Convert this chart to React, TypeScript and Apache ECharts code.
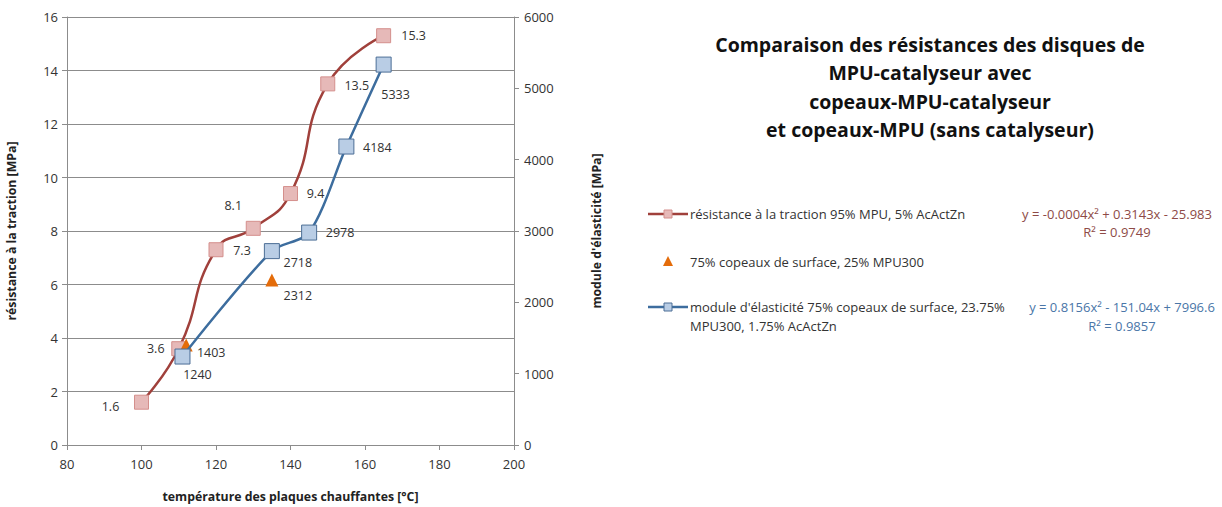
import React, { useEffect, useRef } from "react";
import * as echarts from "echarts";

const tempTraction = [100, 110, 120, 130, 140, 150, 165];
const traction = [1.6, 3.6, 7.3, 8.1, 9.4, 13.5, 15.3];
const tractionLabelOffsets = [[-31, 4], [-23, 0], [26, 1], [-20, -23], [25, 0], [29, 2], [30, 0]];

const tempModule = [111, 135, 145, 155, 165];
const moduleE = [1240, 2718, 2978, 4184, 5333];
const moduleLabelOffsets = [[15, 18], [26, 11], [31, 0], [31, 1], [12, 30]];

const tempChips = [112, 135];
const chips = [1403, 2312];
const chipsLabelOffsets = [[25, 8], [26, 15]];

const xTicks = { min: 80, max: 200, interval: 20 };
const yLeftTicks = { min: 0, max: 16, interval: 2 };
const yRightTicks = { min: 0, max: 6000, interval: 1000 };

const titleLines = [
  "Comparaison des résistances des disques de",
  "MPU-catalyseur avec",
  "copeaux-MPU-catalyseur",
  "et copeaux-MPU (sans catalyseur)",
];
const legendNames = [
  "résistance à la traction 95% MPU, 5% AcActZn",
  "75% copeaux de surface, 25% MPU300",
  "module d'élasticité 75% copeaux de surface, 23.75%\nMPU300, 1.75% AcActZn",
];
const eq1 = ["y = -0.0004x² + 0.3143x - 25.983", "R² = 0.9749"];
const eq2 = ["y = 0.8156x² - 151.04x + 7996.6", "R² = 0.9857"];

const FONT = "'Open Sans', 'DejaVu Sans', sans-serif";
const RED_LINE = "#A0403B";
const RED_FILL = "#E6B9B8";
const RED_BORDER = "#D48F8C";
const BLUE_LINE = "#3D6D9E";
const BLUE_FILL = "#B9CDE5";
const BLUE_BORDER = "#4C6E96";
const ORANGE = "#E46C0A";
const GRID = "#8C8C8C";
const TXT = "#333333";

function mkData(xs: number[], ys: number[], offs: number[][]) {
  return xs.map((x, i) => ({
    value: [x, ys[i]],
    label: { offset: offs[i] },
  }));
}

export default function App() {
  const ref = useRef<HTMLDivElement>(null);
  useEffect(() => {
    if (!ref.current) return;
    const chart = echarts.init(ref.current, null, { renderer: "svg" });
    const labelCommon = {
      show: true,
      position: "inside",
      fontFamily: FONT,
      fontSize: 12.5,
      color: TXT,
      textBorderWidth: 0,
      textBorderColor: "transparent",
      formatter: (p: any) => String(p.value[1]),
    };
    const axisLbl = { fontFamily: FONT, fontSize: 13, color: TXT };
    const nameStyle = { fontFamily: FONT, fontSize: 12.3, fontWeight: "bold", color: "#222" };
    const legTxt = { fontFamily: FONT, fontSize: 13, fill: TXT };
    chart.setOption({
      animation: false,
      backgroundColor: "#ffffff",
      grid: { left: 67, right: 708, top: 17, bottom: 62, containLabel: false },
      xAxis: {
        type: "value",
        ...xTicks,
        axisLine: { show: true, lineStyle: { color: GRID } },
        axisTick: { show: true, length: 5, lineStyle: { color: GRID } },
        splitLine: { show: false },
        axisLabel: { ...axisLbl, margin: 12 },
        name: "température des plaques chauffantes [°C]",
        nameLocation: "middle",
        nameGap: 45,
        nameTextStyle: nameStyle,
      },
      yAxis: [
        {
          type: "value",
          ...yLeftTicks,
          axisLine: { show: true, lineStyle: { color: GRID } },
          axisTick: { show: true, length: 5, lineStyle: { color: GRID } },
          splitLine: { show: true, lineStyle: { color: GRID, width: 1 } },
          axisLabel: { ...axisLbl, margin: 9 },
          name: "résistance à la traction [MPa]",
          nameLocation: "middle",
          nameGap: 50,
          nameTextStyle: nameStyle,
        },
        {
          type: "value",
          position: "right",
          ...yRightTicks,
          axisLine: { show: true, lineStyle: { color: GRID } },
          axisTick: { show: true, length: 5, lineStyle: { color: GRID } },
          splitLine: { show: false },
          axisLabel: { ...axisLbl, margin: 10, formatter: (v: number) => String(v) },
          name: "module d'élasticité [MPa]",
          nameLocation: "middle",
          nameGap: 76,
          nameTextStyle: nameStyle,
        },
      ],
      series: [
        {
          type: "line",
          name: legendNames[0],
          yAxisIndex: 0,
          smooth: 0.5,
          data: mkData(tempTraction, traction, tractionLabelOffsets),
          lineStyle: { color: RED_LINE, width: 2.5 },
          symbol: "rect",
          symbolSize: 14,
          itemStyle: { color: RED_FILL, borderColor: RED_BORDER, borderWidth: 1 },
          label: labelCommon,
          z: 2,
        },
        {
          type: "scatter",
          name: legendNames[1],
          yAxisIndex: 1,
          data: mkData(tempChips, chips, chipsLabelOffsets),
          symbol: "triangle",
          symbolSize: 13,
          itemStyle: { color: ORANGE, opacity: 1 },
          label: labelCommon,
          z: 3,
        },
        {
          type: "line",
          name: legendNames[2],
          yAxisIndex: 1,
          smooth: 0.3,
          data: mkData(tempModule, moduleE, moduleLabelOffsets),
          lineStyle: { color: BLUE_LINE, width: 2.5 },
          symbol: "rect",
          symbolSize: 15,
          itemStyle: { color: BLUE_FILL, borderColor: BLUE_BORDER, borderWidth: 1 },
          label: labelCommon,
          z: 4,
        },
      ],
      graphic: [
        {
          type: "text",
          x: 930,
          y: 30,
          style: {
            text: titleLines.join("\n"),
            align: "center",
            verticalAlign: "top",
            lineHeight: 28.5,
            font: `bold 19.5px ${FONT}`,
            fill: "#111",
          },
        },
        // legend row 1
        { type: "line", shape: { x1: 648, y1: 214, x2: 688, y2: 214 }, style: { stroke: RED_LINE, lineWidth: 2.5 } },
        { type: "rect", shape: { x: 664, y: 210, width: 8, height: 8 }, style: { fill: RED_FILL, stroke: RED_BORDER, lineWidth: 1 } },
        { type: "text", x: 690, y: 214, style: { ...legTxt, text: legendNames[0], verticalAlign: "middle" } },
        // legend row 2
        { type: "polygon", shape: { points: [[668, 256], [663, 266], [673, 266]] }, style: { fill: ORANGE } },
        { type: "text", x: 690, y: 262, style: { ...legTxt, text: legendNames[1], verticalAlign: "middle" } },
        // legend row 3
        { type: "line", shape: { x1: 648, y1: 307, x2: 688, y2: 307 }, style: { stroke: BLUE_LINE, lineWidth: 2.5 } },
        { type: "rect", shape: { x: 664, y: 303, width: 8, height: 8 }, style: { fill: BLUE_FILL, stroke: BLUE_BORDER, lineWidth: 1 } },
        { type: "text", x: 690, y: 297, style: { ...legTxt, text: legendNames[2], verticalAlign: "top", lineHeight: 19 } },
        // equations
        { type: "text", x: 1117, y: 205, style: { ...legTxt, fill: "#8E4A46", text: eq1.join("\n"), align: "center", verticalAlign: "top", lineHeight: 18 } },
        { type: "text", x: 1122, y: 297, style: { ...legTxt, fill: "#4A76A8", text: eq2.join("\n"), align: "center", verticalAlign: "top", lineHeight: 19 } },
      ],
    });
    return () => chart.dispose();
  }, []);
  return <div ref={ref} style={{ position: "absolute", left: 0, top: 0, width: 1222, height: 507 }} />;
}
